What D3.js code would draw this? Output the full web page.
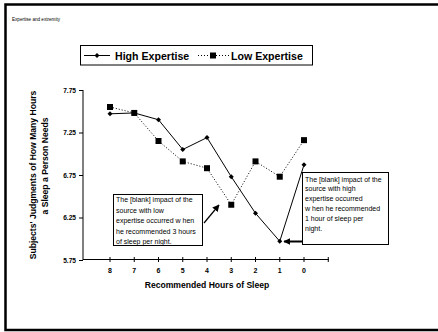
<!DOCTYPE html>
<html><head><meta charset="utf-8">
<script src="https://cdn.jsdelivr.net/npm/d3@7"></script>
<style>body{margin:0;background:#fff}svg{display:block;font-family:"Liberation Sans",Arial,sans-serif}</style>
</head><body>
<svg id="c" width="438" height="332"></svg>
<script>
const categories = ["8","7","6","5","4","3","2","1","0"];
const highExpertise = [7.47,7.48,7.40,7.05,7.19,6.73,6.30,5.97,6.87];
const lowExpertise = [7.55,7.48,7.15,6.91,6.83,6.40,6.91,6.73,7.16];
const yTicks = [5.75,6.25,6.75,7.25,7.75];
const seriesNames = ["High Expertise","Low Expertise"];
const title = "Expertise and extremity";
const yTitle = ["Subjects' Judgments of How Many Hours","a Sleep a Person Needs"];
const xTitle = "Recommended Hours of Sleep";
const note1 = ["The [blank] impact of the","source with low","expertise occurred w hen","he recommended 3 hours","of sleep per night."];
const note2 = ["The [blank] impact of the","source with high","expertise occurred","w hen he recommended","1 hour of sleep per","night."];

const svg = d3.select("#c");
svg.append("defs").append("marker").attr("id","ah").attr("viewBox","0 0 10 10")
  .attr("refX",9).attr("refY",5).attr("markerWidth",7).attr("markerHeight",7)
  .attr("markerUnits","userSpaceOnUse").attr("orient","auto")
  .append("path").attr("d","M0,0L10,5L0,10z").attr("fill","#000");

// outer frame
svg.append("rect").attr("x",5.5).attr("y",4.5).attr("width",440).attr("height",325.5)
  .attr("fill","none").attr("stroke","#000").attr("stroke-width",2.5);
svg.append("text").attr("x",12).attr("y",20.5).attr("font-size",4.6).text(title);

const x = d3.scalePoint().domain(categories).range([110,304]);
const y = d3.scaleLinear().domain([5.75,7.75]).range([260,90]);

// y axis
const ya = svg.append("g").attr("transform","translate(83,0)")
  .call(d3.axisLeft(y).tickValues(yTicks).tickFormat(d3.format(".2f")).tickSize(4).tickPadding(3));
ya.select(".domain").attr("d","M0,90V260");
ya.selectAll("text").attr("font-size",6.6).attr("font-weight","bold").attr("font-family","Liberation Sans, Arial");

// x axis
const xa = svg.append("g").attr("transform","translate(0,259.5)");
xa.append("line").attr("x1",83).attr("x2",329).attr("stroke","#000");
const tickXs = categories.map(c=>x(c)).concat([x("0")+24.25]);
xa.selectAll("line.t").data(tickXs).join("line").attr("class","t")
  .attr("x1",d=>d).attr("x2",d=>d).attr("y1",-2.5).attr("y2",2.5).attr("stroke","#000");
xa.selectAll("text").data(categories).join("text")
  .attr("x",d=>x(d)).attr("y",13.5).attr("text-anchor","middle")
  .attr("font-size",7).attr("font-weight","bold").text(d=>d);

// lines
const lineH = d3.line().x((d,i)=>x(categories[i])).y(d=>y(d));
svg.append("path").datum(lowExpertise).attr("d",lineH).attr("fill","none")
  .attr("stroke","#000").attr("stroke-width",1).attr("stroke-dasharray","1,2");
svg.append("path").datum(highExpertise).attr("d",lineH).attr("fill","none")
  .attr("stroke","#000").attr("stroke-width",1);
svg.selectAll("rect.lo").data(lowExpertise).join("rect").attr("class","lo")
  .attr("x",(d,i)=>x(categories[i])-3).attr("y",d=>y(d)-3).attr("width",6).attr("height",6).attr("fill","#000");
const diamond = d3.symbol().type(d3.symbolDiamond2).size(16);
svg.selectAll("path.hi").data(highExpertise).join("path").attr("class","hi")
  .attr("transform",(d,i)=>`translate(${x(categories[i])},${y(d)})`).attr("d",diamond).attr("fill","#000");

// legend
const lg = svg.append("g");
lg.append("rect").attr("x",80.5).attr("y",45.5).attr("width",232).attr("height",19.5)
  .attr("fill","#fff").attr("stroke","#000").attr("stroke-width",1);
lg.append("line").attr("x1",84).attr("x2",110).attr("y1",55.5).attr("y2",55.5).attr("stroke","#000");
lg.append("path").attr("transform","translate(97,55.5)").attr("d",diamond).attr("fill","#000");
lg.append("text").attr("x",115).attr("y",59.5).attr("font-size",10.6).attr("font-weight","bold").text(seriesNames[0]);
lg.append("line").attr("x1",198).attr("x2",229).attr("y1",55.5).attr("y2",55.5).attr("stroke","#000").attr("stroke-dasharray","1,2");
lg.append("rect").attr("x",210).attr("y",52.5).attr("width",6).attr("height",6).attr("fill","#000");
lg.append("text").attr("x",231).attr("y",59.5).attr("font-size",10.6).attr("font-weight","bold").text(seriesNames[1]);

// axis titles
svg.append("text").attr("x",207).attr("y",288).attr("text-anchor","middle")
  .attr("font-size",8.6).attr("font-weight","bold").text(xTitle);
svg.append("text").attr("transform","translate(36,175) rotate(-90)").attr("text-anchor","middle")
  .attr("font-size",8.6).attr("font-weight","bold").text(yTitle[0]);
svg.append("text").attr("transform","translate(48,166) rotate(-90)").attr("text-anchor","middle")
  .attr("font-size",8.6).attr("font-weight","bold").text(yTitle[1]);

// annotation 1
svg.append("rect").attr("x",113.5).attr("y",194.5).attr("width",89).attr("height",51)
  .attr("fill","#fff").attr("stroke","#000");
svg.append("g").selectAll("text").data(note1).join("text").attr("x",116).attr("y",(d,i)=>202+i*10.6)
  .attr("font-size",7).text(d=>d);
svg.append("line").attr("x1",204).attr("y1",223).attr("x2",219).attr("y2",205)
  .attr("stroke","#000").attr("stroke-width",1.2).attr("marker-end","url(#ah)");

// annotation 2
svg.append("rect").attr("x",302.5).attr("y",172.5).attr("width",86).attr("height",72)
  .attr("fill","#fff").attr("stroke","#000");
svg.append("g").selectAll("text").data(note2).join("text").attr("x",305).attr("y",(d,i)=>181.5+i*9.8)
  .attr("font-size",7).text(d=>d);
svg.append("line").attr("x1",302).attr("y1",241.5).attr("x2",284).attr("y2",241.5)
  .attr("stroke","#000").attr("stroke-width",2).attr("marker-end","url(#ah)");
</script>
</body></html>
